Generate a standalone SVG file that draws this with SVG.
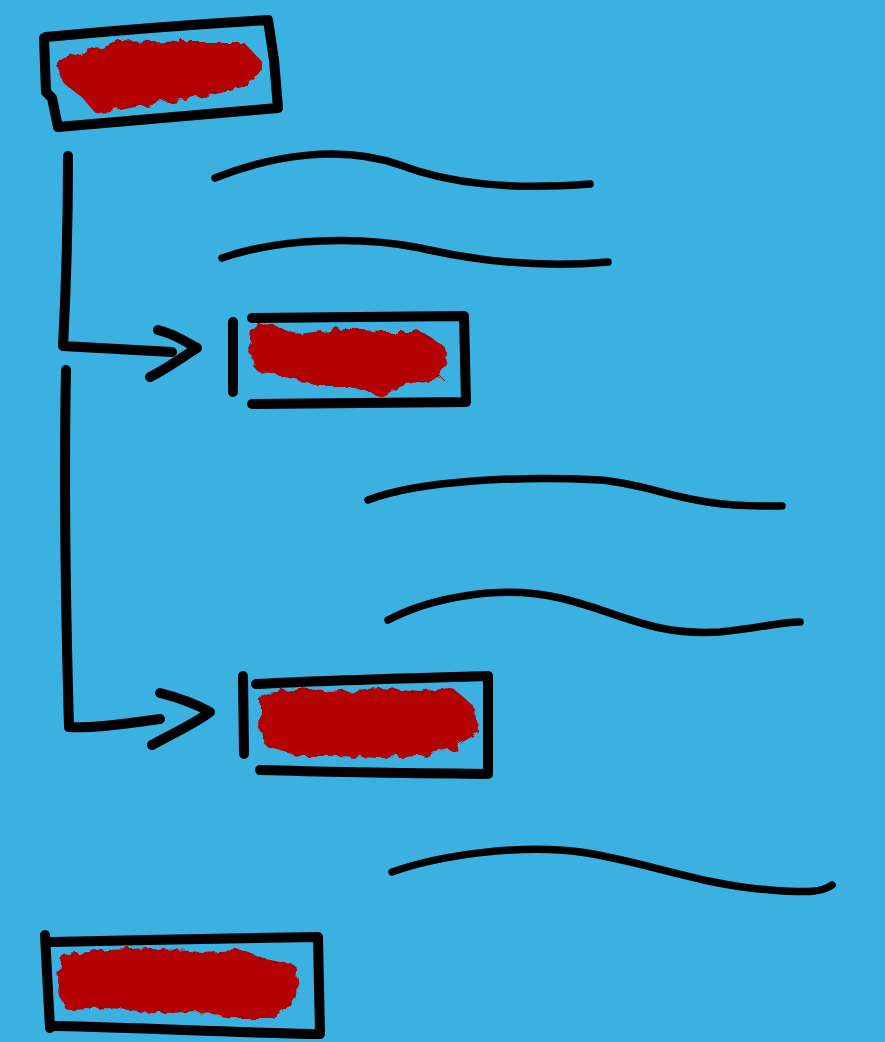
<svg xmlns="http://www.w3.org/2000/svg" width="885" height="1042" viewBox="0 0 885 1042">
<defs>
<filter id="rough" x="-10%" y="-20%" width="120%" height="140%">
<feTurbulence type="fractalNoise" baseFrequency="0.09" numOctaves="2" seed="3"/>
<feDisplacementMap in="SourceGraphic" scale="10"/>
</filter>
</defs>
<style>
.ink{fill:none;stroke:#000;stroke-width:10;stroke-linecap:round;stroke-linejoin:round}
.wave{fill:none;stroke:#000;stroke-width:7.5;stroke-linecap:round}
.blob{fill:#b30000;stroke:#b30000;stroke-width:16;stroke-linejoin:round;filter:url(#rough)}
</style>
<rect width="885" height="1042" fill="#3ab1e0"/>
<g id="node1">
<path class="ink" d="M44,38 L46,92 L52,98 L58,127 C120,122 200,115 278,108 L274,60 L268,20 C200,24 120,30 46,37"/>
<path class="blob" d="M66,66 L100,56 L120,48 L180,50 L240,50 L255,66 L238,80 L200,88 L150,96 L100,106 L88,92 L70,78 Z"/>
</g>
<g id="node2">
<path class="ink" d="M233,322 L233,392 M252,318 L464,316 L466,402 L252,404"/>
<path class="blob" d="M260,332 L300,342 L345,336 L380,340 L420,340 L438,352 L436,372 L400,378 L380,388 L350,378 L320,378 L290,370 L262,364 L258,348 Z"/>
</g>
<g id="node3">
<path class="ink" d="M243,676 L244,754 M256,684 C330,680 420,678 488,676 L488,774 C400,773 330,772 260,770"/>
<path class="blob" d="M268,700 L300,696 L330,700 L380,696 L420,700 L450,696 L468,712 L470,730 L450,742 L420,748 L380,750 L340,748 L300,748 L272,740 L268,720 Z"/>
</g>
<g id="node4">
<path class="ink" d="M45,935 L50,1028 M52,942 C140,940 240,938 318,937 L320,1034 C240,1033 150,1028 56,1026"/>
<path class="blob" d="M68,962 L110,958 L150,956 L200,960 L240,958 L260,966 L290,972 L288,995 L270,1010 L240,1010 L200,1004 L160,1005 L110,1000 L70,1002 L66,980 Z"/>
</g>
<g id="connectors">
<path class="ink" d="M68,156 C68,220 66,290 63,346 L172,352"/>
<path class="ink" d="M158,330 C175,334 186,342 197,348 C184,356 168,368 150,377"/>
<path class="ink" d="M66,370 C64,470 66,620 69,727 C90,728 110,726 160,719"/>
<path class="ink" d="M160,693 C180,698 196,704 210,712 C194,724 172,734 152,745"/>
<path class="wave" d="M215,178 C270,156 340,144 400,165 C450,184 510,190 590,184"/>
<path class="wave" d="M222,258 C280,238 360,236 420,248 C480,262 540,268 608,262"/>
<path class="wave" d="M368,500 C420,480 520,476 600,480 C660,485 680,508 782,506"/>
<path class="wave" d="M388,620 C430,598 500,584 560,598 C620,612 650,636 720,632 C760,628 780,622 800,622"/>
<path class="wave" d="M392,872 C440,855 520,844 580,852 C640,860 700,885 770,890 C810,893 822,892 832,885"/>
</g>
</svg>
